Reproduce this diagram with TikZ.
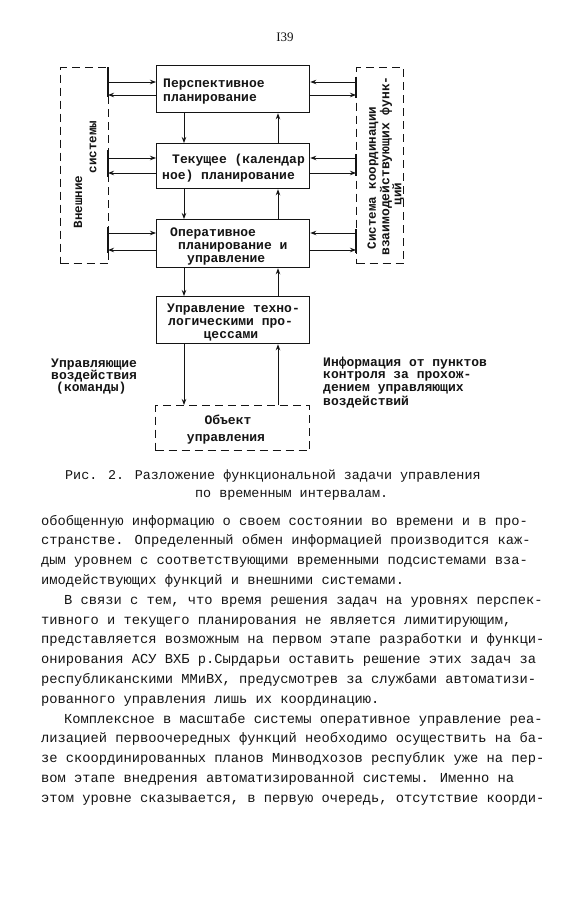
\documentclass[tikz,border=0pt]{standalone}
\usepackage{fontspec}
\usetikzlibrary{arrows.meta}
\newfontfamily\dfont{Liberation Mono}
\newfontfamily\bodyfont{Liberation Mono}
\newfontfamily\pgfont{Liberation Serif}
\definecolor{ink}{HTML}{141414}
\tikzset{
  blk/.style={draw=ink, line width=1.3pt, minimum width=153pt, anchor=north west, inner sep=0pt},
  dbox/.style={draw=ink, line width=1.2pt, dash pattern=on 8pt off 5pt, anchor=north west, inner sep=0pt},
  arr/.style={draw=ink, line width=0.9pt, -{Stealth[length=6pt,width=4.5pt]}},
  tick/.style={draw=ink, line width=1.2pt},
  dtxt/.style={font=\dfont\bfseries\fontsize{13}{13}\selectfont, text=ink, inner sep=0pt, anchor=base west},
  rtxt/.style={font=\dfont\bfseries\fontsize{12.5}{12.5}\selectfont, text=ink, inner sep=0pt, rotate=90, anchor=center},
  btxt/.style={font=\bodyfont\fontsize{13.75}{13.75}\selectfont, text=ink, inner sep=0pt, anchor=base west},
  ctxt/.style={font=\bodyfont\fontsize{13.4}{13.4}\selectfont, text=ink, inner sep=0pt, anchor=base west},
}
\begin{document}
\begin{tikzpicture}[x=1pt,y=-1pt]
\useasboundingbox (0,0) rectangle (578,900);
\fill[white] (0,0) rectangle (578,900);

% page number
\node[font=\pgfont\fontsize{13}{13}\selectfont, text=ink, inner sep=0pt] (pg) at (285,37) {I39};

% side dashed boxes
\node[dbox, minimum width=48pt, minimum height=196pt] (lb) at (60,67) {};
\node[dbox, minimum width=47pt, minimum height=196pt] (rb) at (356,67) {};

% main boxes
\node[blk, minimum height=47pt] (b1) at (156,65) {};
\node[blk, minimum height=45pt] (b2) at (156,143) {};
\node[blk, minimum height=48pt] (b3) at (156,219) {};
\node[blk, minimum height=47pt] (b4) at (156,296) {};
\node[dbox, minimum width=154pt, minimum height=45pt] (b5) at (155,405) {};

% solid ticks on dashed edges where arrows meet
\draw[tick] (108,67) -- (108,97);
\draw[tick] (108,150) -- (108,177);
\draw[tick] (108,227) -- (108,253);
\draw[tick] (356,77) -- (356,98);
\draw[tick] (356,154) -- (356,176);
\draw[tick] (356,229) -- (356,253);

% horizontal connectors, left side
\coordinate (la1) at (108,82);  \coordinate (la2) at (108,95);
\coordinate (lb1) at (108,158); \coordinate (lb2) at (108,173);
\coordinate (lc1) at (108,233); \coordinate (lc2) at (108,250);
\draw[arr] (la1) -- (la1 -| b1.west);
\draw[arr] (la2 -| b1.west) -- (la2);
\draw[arr] (lb1) -- (lb1 -| b2.west);
\draw[arr] (lb2 -| b2.west) -- (lb2);
\draw[arr] (lc1) -- (lc1 -| b3.west);
\draw[arr] (lc2 -| b3.west) -- (lc2);

% horizontal connectors, right side
\coordinate (ra1) at (356,82);  \coordinate (ra2) at (356,95);
\coordinate (rb1) at (356,158); \coordinate (rb2) at (356,173);
\coordinate (rc1) at (356,233); \coordinate (rc2) at (356,250);
\draw[arr] (ra1) -- (ra1 -| b1.east);
\draw[arr] (ra2 -| b1.east) -- (ra2);
\draw[arr] (rb1) -- (rb1 -| b2.east);
\draw[arr] (rb2 -| b2.east) -- (rb2);
\draw[arr] (rc1) -- (rc1 -| b3.east);
\draw[arr] (rc2 -| b3.east) -- (rc2);

% vertical connectors
\coordinate (dx) at (184,0);
\coordinate (ux) at (278,0);
\draw[arr] (b1.south -| dx) -- (b2.north -| dx);
\draw[arr] (b2.south -| dx) -- (b3.north -| dx);
\draw[arr] (b3.south -| dx) -- (b4.north -| dx);
\draw[arr] (b4.south -| dx) -- (b5.north -| dx);
\draw[arr] (b2.north -| ux) -- (b1.south -| ux);
\draw[arr] (b3.north -| ux) -- (b2.south -| ux);
\draw[arr] (b4.north -| ux) -- (b3.south -| ux);
\draw[arr] (b5.north -| ux) -- (b4.south -| ux);

% box texts
\node[dtxt] (t1a) at (163,87) {Перспективное};
\node[dtxt] (t1b) at (163,101) {планирование};
\node[dtxt] (t2a) at (172,163) {Текущее (календар};
\node[dtxt] (t2b) at (162,179) {ное) планирование};
\node[dtxt] (t3a) at (170,236) {Оперативное};
\node[dtxt] (t3b) at (178,249) {планирование и};
\node[dtxt] (t3c) at (187,262) {управление};
\node[dtxt] (t4a) at (167,312) {Управление техно-};
\node[dtxt] (t4b) at (168,325) {логическими про-};
\node[dtxt, anchor=base] (t4c) at (231,338) {цессами};
\node[dtxt, anchor=base] (t5a) at (228,424) {Объект};
\node[dtxt, anchor=base] (t5b) at (226,441) {управления};

% rotated side labels
\node[rtxt] (s1) at (78,202) {Внешние};
\node[rtxt] (s2) at (93,147) {системы};
\node[rtxt] (s3) at (373,178) {Система координации};
\node[rtxt, font=\dfont\bfseries\fontsize{13}{13}\selectfont] (s4) at (386,166) {взаимодействующих функ-};
\node[rtxt] (s5) at (398,194) {ций};

% side annotations
\node[dtxt] (u1) at (51,367) {Управляющие};
\node[dtxt] (u2) at (51,379) {воздействия};
\node[dtxt] (u3) at (56,391) {(команды)};
\node[dtxt] (i1) at (323,366) {Информация от пунктов};
\node[dtxt] (i2) at (323,378) {контроля за прохож-};
\node[dtxt] (i3) at (323,391) {дением управляющих};
\node[dtxt] (i4) at (323,405) {воздействий};

% caption
\node[ctxt] (c1) at (65,479) {Рис. 2. Разложение функциональной задачи управления};
\node[ctxt] (c2) at (195,497) {по временным интервалам.};

% body text
\node[btxt] (l1) at (41,525) {обобщенную информацию о своем состоянии во времени и в про-};
\node[btxt] (l2) at (41,544.8) {странстве. Определенный обмен информацией производится каж-};
\node[btxt] (l3) at (41,564.6) {дым уровнем с соответствующими временными подсистемами вза-};
\node[btxt] (l4) at (41,584.4) {имодействующих функций и внешними системами.};
\node[btxt] (l5) at (64,604.2) {В связи с тем, что время решения задач на уровнях перспек-};
\node[btxt] (l6) at (41,624) {тивного и текущего планирования не является лимитирующим,};
\node[btxt] (l7) at (41,643.8) {представляется возможным на первом этапе разработки и функци-};
\node[btxt] (l8) at (41,663.6) {онирования АСУ ВХБ р.Сырдарьи оставить решение этих задач за};
\node[btxt] (l9) at (41,683.4) {республиканскими ММиВХ, предусмотрев за службами автоматизи-};
\node[btxt] (l10) at (41,703.2) {рованного управления лишь их координацию.};
\node[btxt] (l11) at (64,723) {Комплексное в масштабе системы оперативное управление реа-};
\node[btxt] (l12) at (41,742.8) {лизацией первоочередных функций необходимо осуществить на ба-};
\node[btxt] (l13) at (41,762.6) {зе скоординированных планов Минводхозов республик уже на пер-};
\node[btxt] (l14) at (41,782.4) {вом этапе внедрения автоматизированной системы. Именно на};
\node[btxt] (l15) at (41,802.2) {этом уровне сказывается, в первую очередь, отсутствие коорди-};
\end{tikzpicture}
\end{document}
